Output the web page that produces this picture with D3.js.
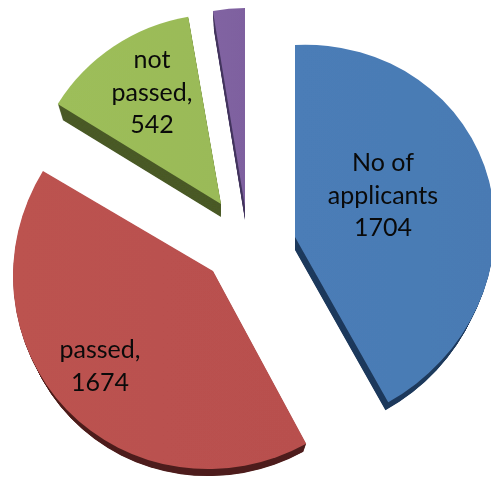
<!DOCTYPE html>
<html>
<head>
<meta charset="utf-8">
<script src="https://cdn.jsdelivr.net/npm/d3@7"></script>
<style>
  html, body { margin: 0; padding: 0; background: #fff; }
  svg { display: block; }
  text { font-family: Lato, "Open Sans", sans-serif; fill: #0a0a0a; }
</style>
</head>
<body>
<div id="chart"></div>
<script>
/* exploded 3D pie: applicants / passed / not passed */
var categories = ['No of applicants', 'passed', 'not passed', 'other'];
var values = [1704, 1674, 542, 110];
var labelLines = [['No of', 'applicants'], ['passed,'], ['not', 'passed,'], []];

var topColors = ['#4a7bb4', '#b9514f', '#9bbb59', '#7f62a0'];
var wallColors = ['#1f3a5c', '#4f1f1d', '#4a5a26', '#45365f'];

// how far each slice is pulled out of the pie, and where its label sits
var pullX = [49, -33, -25, -1];
var pullY = [-4, 30, -37, -34];
var labelX = [383, 100, 152, 0];
var labelY = [171, 358, 68, 0];

// the perspective is not a clean ellipse, so each slice gets its own shape
var radiusX = [200, 200, 192, 188];
var radiusY = [192, 198, 190, 199];
var skew = [-0.05, -0.025, 0, 0];

var width = 491, height = 479;
var cx = 246, cy = 241;
var depth = 13, shrink = 0.97, layers = 16;
var lineHeight = 32.5;

var svg = d3.select('#chart').append('svg')
  .attr('width', width).attr('height', height);

var defs = svg.append('defs');
defs.append('filter').attr('id', 'soft')
  .append('feGaussianBlur').attr('stdDeviation', 0.45);

topColors.forEach(function (c, i) {
  var grad = defs.append('linearGradient').attr('id', 'top-' + i);
  grad.append('stop').attr('offset', '0%').attr('stop-color', d3.color(c).brighter(0.04));
  grad.append('stop').attr('offset', '100%').attr('stop-color', d3.color(c).darker(0.02));
});

var pie = d3.pie().sort(null).value(function (d) { return d; });
var arc = d3.arc().innerRadius(0).outerRadius(100);
var slices = pie(values);

function place(i, k, drop) {
  var sx = radiusX[i] * k / 100, sy = radiusY[i] * k / 100;
  return 'matrix(' + [sx, sx * skew[i], 0, sy, cx + pullX[i], cy + pullY[i] + drop].join(',') + ')';
}

// walls first, back to front, then the top faces
var marks = svg.append('g').attr('filter', 'url(#soft)');
var order = [3, 2, 0, 1];
order.forEach(function (i) {
  var g = marks.append('g').attr('class', 'slice').attr('data-name', categories[i]);
  d3.range(layers).forEach(function (n) {
    var t = n / layers;
    g.append('path')
      .attr('d', arc(slices[i]))
      .attr('fill', wallColors[i])
      .attr('transform', place(i, shrink + (1 - shrink) * t, depth * (1 - t)));
  });
  g.append('path')
    .attr('d', arc(slices[i]))
    .attr('fill', 'url(#top-' + i + ')')
    .attr('transform', place(i, 1, 0));
});

categories.forEach(function (name, i) {
  if (!labelLines[i].length) return;
  var lines = labelLines[i].concat(String(values[i]));
  var label = svg.append('text')
    .attr('text-anchor', 'middle')
    .attr('font-size', 25);
  lines.forEach(function (line, j) {
    label.append('tspan')
      .attr('x', labelX[i])
      .attr('y', labelY[i] + j * lineHeight)
      .text(line);
  });
});
</script>
</body>
</html>
